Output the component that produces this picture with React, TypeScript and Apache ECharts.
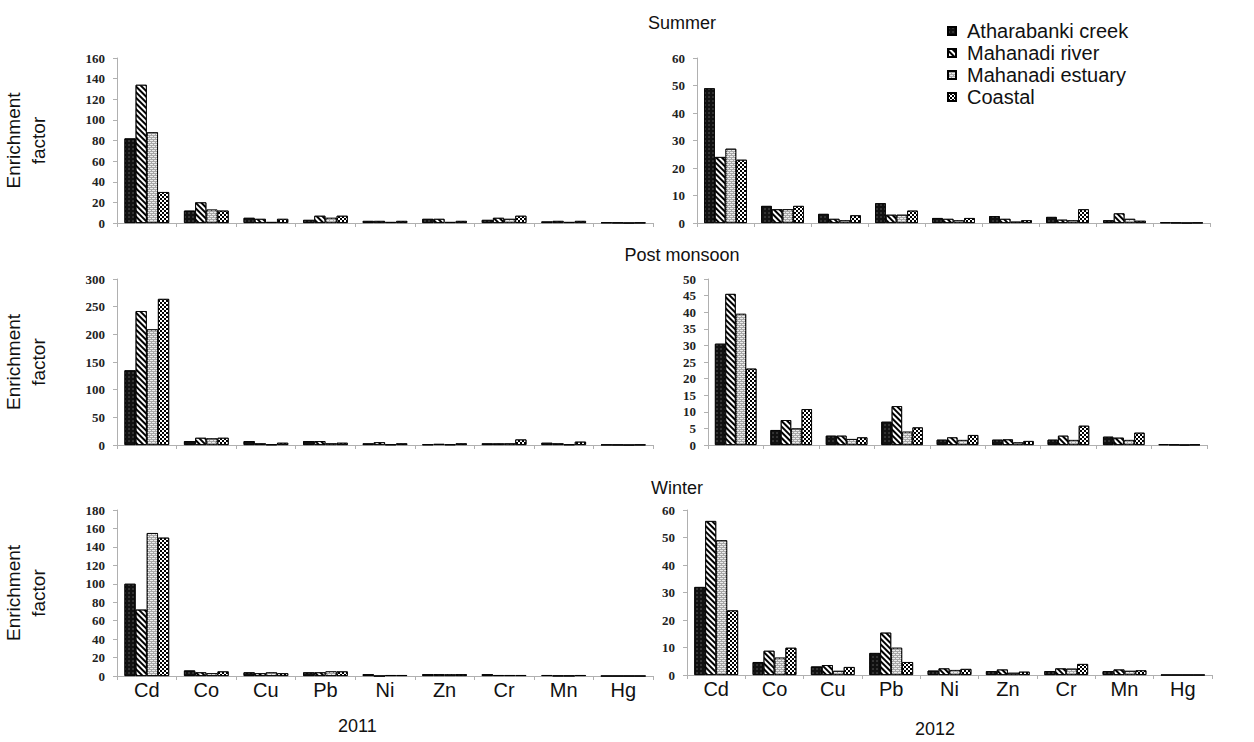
import React, { useEffect, useRef } from "react";
import * as echarts from "echarts";

const metals = ["Cd", "Co", "Cu", "Pb", "Ni", "Zn", "Cr", "Mn", "Hg"];
const sites = ["Atharabanki creek", "Mahanadi river", "Mahanadi estuary", "Coastal"];

// each panel: [creek, river, estuary, coastal], values per metal
const summer2011 = [
  [82, 12, 5, 3, 2, 4, 3, 1.5, 0.5],
  [134, 20, 4, 7, 2, 4, 5, 2, 0.3],
  [88, 13, 1, 5, 1, 1, 4, 1, 0],
  [30, 12, 4, 7, 2, 2, 7, 2, 0.3],
];
const summer2012 = [
  [49, 6.2, 3.3, 7.2, 1.8, 2.5, 2.2, 1, 0.2],
  [24, 5, 1.5, 3, 1.5, 1.5, 1.2, 3.5, 0.1],
  [27, 5, 1, 3, 1, 0.5, 1, 1.5, 0],
  [23, 6.2, 2.8, 4.5, 1.8, 1, 5, 0.8, 0.1],
];
const post2011 = [
  [135, 7, 7, 7, 3, 1, 3, 4, 0.5],
  [242, 13, 3, 7, 5, 2, 3, 3, 0.3],
  [209, 12, 1, 3, 1, 1, 3, 1, 0],
  [264, 13, 4, 4, 3, 3, 10, 6, 0.5],
];
const post2012 = [
  [30.5, 4.5, 2.8, 7, 1.6, 1.6, 1.6, 2.5, 0.2],
  [45.5, 7.5, 2.8, 11.7, 2.3, 1.7, 2.8, 2.2, 0.1],
  [39.5, 5, 1.8, 4, 1.5, 0.8, 1.5, 1.5, 0],
  [23, 10.8, 2.3, 5.3, 3, 1.2, 5.8, 3.7, 0.1],
];
const winter2011 = [
  [100, 6, 4, 4, 2, 2, 2, 1, 0],
  [72, 4, 3, 4, 0, 2, 1, 0.3, 0],
  [155, 3, 4, 5, 1, 2, 1, 0.3, 0],
  [150, 5, 3, 5, 1, 2, 1, 1, 0],
];
const winter2012 = [
  [32, 4.7, 3.1, 8, 1.6, 1.4, 1.4, 1.4, 0],
  [56, 8.8, 3.6, 15.4, 2.4, 2, 2.4, 2, 0],
  [49, 6.3, 1.5, 9.9, 1.8, 0.8, 2.3, 1.5, 0],
  [23.5, 9.9, 2.9, 4.7, 2.2, 1.2, 4, 1.7, 0],
];

const panels = [summer2011, summer2012, post2011, post2012, winter2011, winter2012];
const yMax = [160, 60, 300, 50, 180, 60];
const yStep = [20, 10, 50, 5, 20, 10];
const seasonTitles = ["Summer", "Post monsoon", "Winter"];
const yearLabels = ["2011", "2012"];
const yAxisTitle = "Enrichment\nfactor";

const grids = [
  { left: 117, top: 58, width: 536, height: 165 },
  { left: 697, top: 58, width: 513, height: 165 },
  { left: 115, top: 279, width: 538, height: 166 },
  { left: 708, top: 279, width: 499, height: 166 },
  { left: 115, top: 510, width: 538, height: 166 },
  { left: 687, top: 510, width: 525, height: 165 },
];

const siteColors = ["#111111", "#ffffff", "#a8a8a8", "#ffffff"];
const siteDecals: any[] = [
  { symbol: "circle", symbolSize: 0.7, color: "rgba(255,255,255,0.35)", dashArrayX: [2, 2], dashArrayY: [2, 2] },
  { symbol: "rect", symbolSize: 1, color: "#000", dashArrayX: [1, 0], dashArrayY: [2, 2], rotation: Math.PI / 4 },
  { symbol: "rect", symbolSize: 1, color: "#ececec", dashArrayX: [[3, 1], [1, 1, 2, 0]], dashArrayY: [1, 1] },
  { symbol: "rect", symbolSize: 1, color: "#000", dashArrayX: [[2, 2], [0, 2, 2, 0]], dashArrayY: [2, 0] },
];

export default function App() {
  const ref = useRef<HTMLDivElement>(null);
  useEffect(() => {
    if (!ref.current) return;
    const chart = echarts.init(ref.current, null, { renderer: "svg" });
    const series: any[] = [];
    panels.forEach((panel, p) => {
      panel.forEach((vals, s) => {
        series.push({
          type: "bar",
          name: sites[s],
          xAxisIndex: p,
          yAxisIndex: p,
          data: vals,
          barGap: "0%",
          barCategoryGap: "25%",
          itemStyle: {
            color: siteColors[s],
            borderColor: "#000",
            borderWidth: 0.8,
            decal: siteDecals[s],
          },
        });
      });
    });
    const option: any = {
      animation: false,
      backgroundColor: "#fff",
      title: [
        { text: seasonTitles[0], left: 677, top: 9, textAlign: "center" },
        { text: seasonTitles[1], left: 677, top: 241, textAlign: "center" },
        { text: seasonTitles[2], left: 672, top: 474, textAlign: "center" },
      ].map((t) => ({
        ...t,
        textStyle: { fontFamily: "Liberation Sans", fontSize: 18, fontWeight: "normal", color: "#111" },
      })),
      legend: {
        data: sites,
        orient: "vertical",
        left: 942,
        top: 15,
        itemWidth: 8,
        itemHeight: 8,
        itemGap: 0,
        icon: "rect",
        textStyle: { fontFamily: "Liberation Sans", fontSize: 20, lineHeight: 22, color: "#111", padding: [0, 0, 0, 6] },
      },
      grid: grids.map((g) => ({ ...g, containLabel: false })),
      xAxis: grids.map((_, i) => ({
        type: "category",
        gridIndex: i,
        data: metals,
        axisLine: { lineStyle: { color: "#b0b0b0" } },
        axisTick: { show: true, length: 4, lineStyle: { color: "#b0b0b0" } },
        axisLabel: {
          show: i >= 4,
          fontFamily: "Liberation Sans",
          fontSize: 20,
          color: "#111",
          margin: 4,
          interval: 0,
        },
      })),
      yAxis: grids.map((_, i) => ({
        type: "value",
        gridIndex: i,
        min: 0,
        max: yMax[i],
        interval: yStep[i],
        name: i % 2 === 0 ? yAxisTitle : "",
        nameLocation: "middle",
        nameRotate: 90,
        nameGap: 66,
        nameTextStyle: { fontFamily: "Liberation Sans", fontSize: 19, color: "#111", lineHeight: 25 },
        splitLine: { show: false },
        axisLine: { show: true, lineStyle: { color: "#b0b0b0" } },
        axisTick: { show: true, length: 4, lineStyle: { color: "#b0b0b0" } },
        axisLabel: {
          fontFamily: "Liberation Serif",
          fontWeight: "bold",
          fontSize: 13,
          color: "#222",
          margin: 12,
        },
      })),
      graphic: [
        { type: "text", left: 338, top: 717, style: { text: yearLabels[0], font: "18px 'Liberation Sans'", fill: "#111" } },
        { type: "text", left: 915, top: 720, style: { text: yearLabels[1], font: "18px 'Liberation Sans'", fill: "#111" } },
      ],
      series,
    };
    chart.setOption(option);
    return () => chart.dispose();
  }, []);
  return (
    <div
      ref={ref}
      style={{ position: "fixed", left: 0, top: 0, width: 1254, height: 742, background: "#fff" }}
    />
  );
}
